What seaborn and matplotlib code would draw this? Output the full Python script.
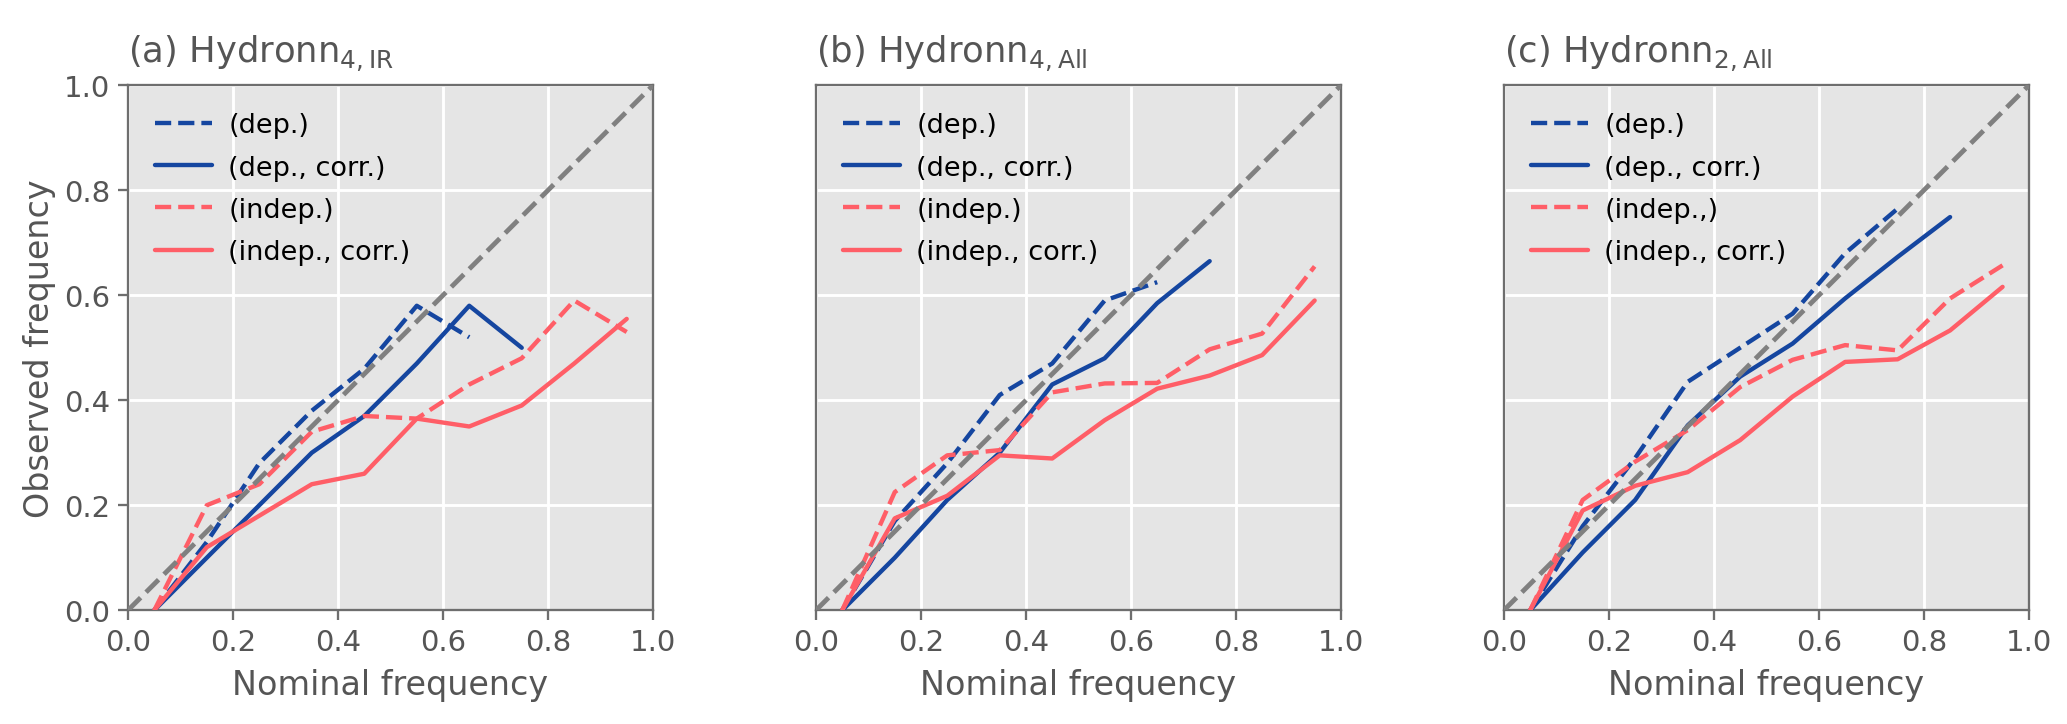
import matplotlib
matplotlib.use("Agg")
import matplotlib.pyplot as plt
import seaborn as sns
import pandas as pd

nominal = [0.05, 0.15, 0.25, 0.35, 0.45, 0.55, 0.65, 0.75, 0.85, 0.95]

a_dep = [0.0, 0.13, 0.28, 0.38, 0.46, 0.58, 0.52]
a_dep_corr = [0.0, 0.10, 0.20, 0.30, 0.37, 0.47, 0.58, 0.50]
a_indep = [0.0, 0.20, 0.24, 0.34, 0.37, 0.365, 0.43, 0.48, 0.59, 0.53]
a_indep_corr = [0.0, 0.12, 0.18, 0.24, 0.26, 0.365, 0.35, 0.39, 0.47, 0.555]

b_dep = [0.0, 0.17, 0.28, 0.41, 0.47, 0.59, 0.625]
b_dep_corr = [0.0, 0.10, 0.21, 0.30, 0.43, 0.48, 0.585, 0.665]
b_indep = [0.0, 0.225, 0.295, 0.305, 0.415, 0.432, 0.433, 0.497, 0.527, 0.655]
b_indep_corr = [0.0, 0.175, 0.218, 0.295, 0.289, 0.362, 0.422, 0.447, 0.486, 0.59]

c_dep = [0.0, 0.16, 0.29, 0.435, 0.50, 0.565, 0.68, 0.765]
c_dep_corr = [0.0, 0.11, 0.21, 0.352, 0.445, 0.508, 0.594, 0.673, 0.749]
c_indep = [0.0, 0.21, 0.283, 0.343, 0.425, 0.477, 0.505, 0.495, 0.594, 0.657]
c_indep_corr = [0.0, 0.19, 0.237, 0.263, 0.324, 0.407, 0.473, 0.478, 0.533, 0.616]

titles = [r"(a) Hydronn$_{4,\mathrm{IR}}$", r"(b) Hydronn$_{4,\mathrm{All}}$", r"(c) Hydronn$_{2,\mathrm{All}}$"]
labels_ab = ["(dep.)", "(dep., corr.)", "(indep.)", "(indep., corr.)"]
labels_c = ["(dep.)", "(dep., corr.)", "(indep.,)", "(indep., corr.)"]
ticks = [0.0, 0.2, 0.4, 0.6, 0.8, 1.0]

BLUE = "#1546A0"
RED = "#FF5E67"
GRAY_TXT = "#555555"
SPINE = "#6E6E6E"

sns.set_style("darkgrid", {"axes.facecolor": "#E5E5E5", "grid.color": "white"})
plt.rcParams["font.family"] = ["DejaVu Sans"]
plt.rcParams["mathtext.fontset"] = "dejavusans"

fig, axes = plt.subplots(1, 3, figsize=(13.78, 4.833), dpi=150)
fig.subplots_adjust(left=0.0619, right=0.9816, bottom=0.157, top=0.881, wspace=0.31)

panels = [
    (a_dep, a_dep_corr, a_indep, a_indep_corr, labels_ab),
    (b_dep, b_dep_corr, b_indep, b_indep_corr, labels_ab),
    (c_dep, c_dep_corr, c_indep, c_indep_corr, labels_c),
]

for i, (ax, (dep, depc, ind, indc, labs)) in enumerate(zip(axes, panels)):
    series = [(dep, BLUE, "--"), (depc, BLUE, "-"), (ind, RED, "--"), (indc, RED, "-")]
    for (vals, col, ls), lab in zip(series, labs):
        df = pd.DataFrame({"x": nominal[:len(vals)], "y": vals})
        sns.lineplot(data=df, x="x", y="y", ax=ax, color=col, linestyle=ls,
                     linewidth=2.1, label=lab, zorder=3)
    ax.axline((0, 0), slope=1, color="#808080", linestyle="--", linewidth=2.3, zorder=4)
    ax.set_xlim(0, 1)
    ax.set_ylim(0, 1)
    ax.set_aspect("equal", adjustable="box")
    ax.set_xticks(ticks)
    ax.set_yticks(ticks)
    ax.grid(True, color="white", linewidth=1.4)
    ax.set_axisbelow(True)
    for sp in ax.spines.values():
        sp.set_visible(True)
        sp.set_color(SPINE)
        sp.set_linewidth(1.1)
    ax.tick_params(axis="both", which="both", direction="out", length=5, width=1.1,
                   color=SPINE, labelcolor=GRAY_TXT, labelsize=14, bottom=True, left=True)
    ax.set_xlabel("Nominal frequency", fontsize=16, color=GRAY_TXT, labelpad=6)
    if i == 0:
        ax.set_ylabel("Observed frequency", fontsize=16, color=GRAY_TXT)
    else:
        ax.set_ylabel("")
        ax.tick_params(axis="y", left=False, labelleft=False)
    ax.set_title(titles[i], loc="left", fontsize=17, color=GRAY_TXT, pad=11)
    leg = ax.legend(loc="upper left", frameon=False, fontsize=13, handlelength=2.1,
                    handletextpad=0.6, labelspacing=0.6, borderaxespad=0.6)
    for t in leg.get_texts():
        t.set_color("black")

fig.savefig("out.png", dpi=150)
